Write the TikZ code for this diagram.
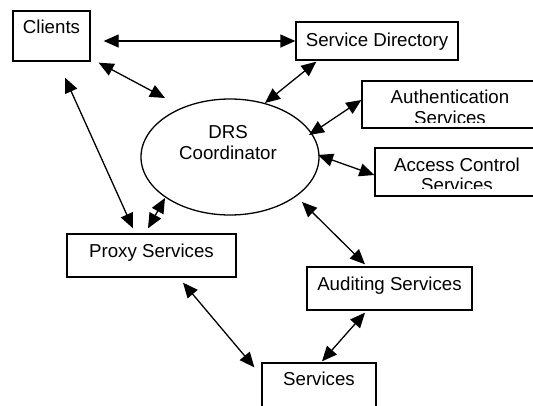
\documentclass[tikz,border=0pt]{standalone}
\usepackage{fontspec}
\setmainfont{Liberation Sans}
\usetikzlibrary{arrows.meta,calc,shapes.geometric}

\tikzset{
  x=1pt, y=-1pt,
  box/.style={draw, line width=1.3pt, rectangle, inner sep=0pt},
  coord/.style={draw, line width=1.3pt, ellipse, inner sep=0pt},
  lbl/.style={anchor=base, inner sep=0pt, font=\fontsize{18.7}{20}\selectfont},
  link/.style={line width=1.3pt, {Triangle[length=15pt,width=13pt]}-{Triangle[length=15pt,width=13pt]}},
}

\begin{document}
\begin{tikzpicture}
\useasboundingbox (0,0) rectangle (533,405);
\clip (0,0) rectangle (533,405);

% boxes
\node[box, minimum width=77pt,  minimum height=50pt] (clients) at (51.5,36)    {};
\node[box, minimum width=162pt, minimum height=38pt] (dir)     at (377,41)     {};
\node[box, minimum width=183pt, minimum height=47pt] (auth)    at (453.5,104.5) {};
\node[box, minimum width=170pt, minimum height=48pt] (acc)     at (460,172)    {};
\node[coord, minimum width=178pt, minimum height=116pt] (drs)  at (230,157)    {};
\node[box, minimum width=169pt, minimum height=43pt] (proxy)   at (151.5,255.5) {};
\node[box, minimum width=165pt, minimum height=43pt] (audit)   at (389.5,288.5) {};
\node[box, minimum width=114pt, minimum height=57pt] (serv)    at (319,391.5)  {};

% labels
\node[lbl] (clientsT) at (51.5,33.6) {Clients};
\node[lbl] (dirT)     at (377,46)    {Service Directory};
\node[lbl] (drsT1)    at (228,138.5) {DRS};
\node[lbl] (drsT2)    at (228,159.5) {Coordinator};
\node[lbl] (proxyT)   at (151.5,257.3) {Proxy Services};
\node[lbl] (auditT)   at (389.5,290.7) {Auditing Services};
\node[lbl] (servT)    at (319,385.7) {Services};

% two-line labels cut off by the bottom of their boxes
\begin{scope}
  \clip (362,81) rectangle (533,122.3);
  \node[lbl] (authT1) at (450,103.3) {Authentication};
  \node[lbl] (authT2) at (450,124) {Services};
\end{scope}
\begin{scope}
  \clip (375,148) rectangle (533,188.3);
  \node[lbl] (accT1) at (457,171.7) {Access Control};
  \node[lbl] (accT2) at (457,191.3) {Services};
\end{scope}

% connectors
\draw[link] ($(clients.east)+(13,5)$) -- (dir.west);
\draw[link] ($(clients.south east)+(8,1)$) -- ($(drs.center)+(-65,-59)$);
\draw[link] ($(clients.south)+(13.5,16)$) -- ($(proxy.north)+(-18.5,-5)$);
\draw[link] ($(drs.center)+(-65,41)$) -- ($(proxy.north)+(-3.5,-5)$);
\draw[link] ($(drs.center)+(35,-54)$) -- ($(dir.south west)+(21,1)$);
\draw[link] ($(drs.center)+(79,-22)$) -- ($(auth.west)+(0,-4.5)$);
\draw[link] ($(drs.center)+(88,-2)$) -- ($(acc.west)+(0,3)$);
\draw[link] ($(drs.center)+(72,45)$) -- ($(audit.north)+(-24.5,-2)$);
\draw[link] ($(audit.south)+(-24.5,2)$) -- ($(serv.north)+(3,-1)$);
\draw[link] ($(proxy.south)+(31.5,5)$) -- ($(serv.north west)+(-7,5)$);
\end{tikzpicture}
\end{document}
